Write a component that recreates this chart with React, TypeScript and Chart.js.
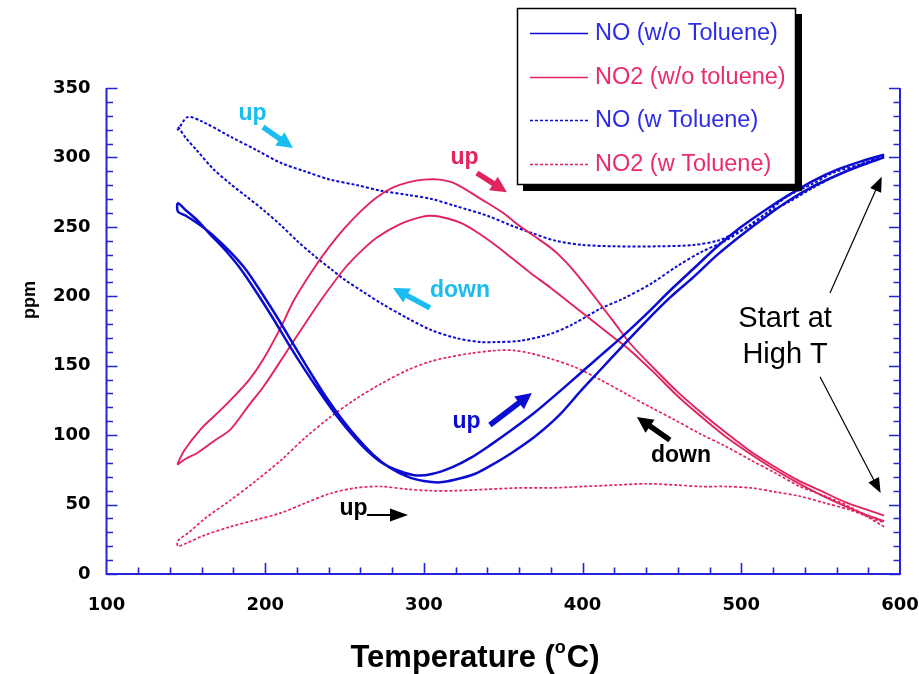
import { useEffect, useRef } from 'react';
import { Chart, registerables } from 'chart.js';

Chart.register(...registerables);

type Pt = [number, number];

// ---------- data (Temperature °C, ppm) ----------
const X_TICKS = [100, 200, 300, 400, 500, 600];
const Y_TICKS = [0, 50, 100, 150, 200, 250, 300, 350];

const NO_WO_TOL_COOL: Pt[] = [
  [590, 300], [575, 294], [560, 287], [545, 279], [530, 269], [515, 257], [500, 244], [485, 230],
  [470, 214], [455, 199], [440, 182], [425, 164], [412, 148], [399, 132], [385, 114], [370, 99],
  [355, 87], [342, 78], [332, 72], [320, 68], [310, 66], [300, 67], [290, 70], [278, 77], [268, 86],
  [258, 98], [248, 112], [238, 128], [228, 146], [218, 165], [208, 184], [198, 202], [188, 219],
  [178, 232], [168, 243], [158, 252], [150, 258], [145, 261],
];
const NO_WO_TOL_HEAT: Pt[] = [
  [145, 267], [150, 262], [157, 255], [165, 245], [175, 233], [185, 219], [195, 202], [205, 184],
  [215, 165], [225, 147], [235, 130], [245, 114], [255, 100], [265, 88], [275, 79], [285, 74],
  [295, 71], [305, 72], [318, 77], [330, 84], [342, 93], [355, 103.5], [370, 116.5], [385, 131],
  [400, 146], [412, 158], [425, 171], [440, 187], [455, 204], [470, 220], [485, 236], [500, 250],
  [515, 262], [530, 273], [545, 283], [560, 291], [575, 297], [590, 302],
];

const NO2_WO_TOL_COOL: Pt[] = [
  [590, 38], [580, 42], [565, 49], [550, 57], [535, 66], [520, 76], [505, 87], [490, 99], [475, 113],
  [460, 128], [445, 145], [430, 161], [420, 170], [410, 179], [400, 188], [390, 197], [380, 206],
  [367, 217], [356, 227], [346, 236], [335, 245], [325, 252], [315, 256], [305, 258], [298, 257],
  [285, 252], [270, 242], [260, 232], [250, 220], [235, 197], [225, 180], [214, 161], [199, 135],
  [190, 122], [178, 104], [168, 96], [157, 87], [150, 83], [145, 79],
];
const NO2_WO_TOL_HEAT: Pt[] = [
  [145, 80], [149, 89], [160, 105], [170, 116], [178, 125], [190, 140], [199, 155], [210, 178],
  [218, 197], [230, 219], [240, 235], [250, 249], [260, 261], [270, 271], [280, 278], [290, 282],
  [300, 284], [310, 284], [320, 281], [336, 270], [350, 260], [361, 250], [370, 243], [382, 233],
  [390, 224], [399, 212], [410, 196], [420, 181], [430, 166], [445, 148], [460, 131], [475, 116],
  [490, 102], [505, 89], [520, 78], [535, 68], [550, 60], [565, 52], [580, 46], [590, 42],
];

const NO_W_TOL_COOL: Pt[] = [
  [590, 301], [575, 295], [560, 287], [545, 278], [530, 268], [515, 259], [505, 251], [490, 240],
  [475, 232], [460, 222], [443, 209], [425, 198], [411, 191], [394, 180], [380, 173], [361, 168],
  [345, 167], [336, 167], [320, 170], [304, 176], [290, 184], [273, 195], [262, 203], [250, 212],
  [241, 220], [230, 230], [220, 240], [210, 251], [199, 262], [188, 272], [178, 281], [167, 292],
  [157, 305], [150, 314], [145, 322],
];
const NO_W_TOL_HEAT: Pt[] = [
  [145, 320], [151, 329], [160, 326], [178, 315], [195, 305], [210, 296], [225, 290], [241, 284],
  [258, 280], [273, 276], [290, 273], [305, 270], [320, 265], [340, 258], [355, 251], [367, 246],
  [383, 240], [400, 237], [420, 236], [449, 236], [470, 237], [485, 240], [497, 246], [506, 251],
  [518, 262], [529, 272], [545, 281], [558, 289], [575, 295], [588, 300],
];

const NO2_W_TOL_COOL: Pt[] = [
  [590, 34], [569, 48], [553, 56], [537, 63], [521, 73], [506, 82], [490, 92], [474, 101], [458, 111],
  [443, 120], [427, 130], [411, 140], [395, 149], [380, 155], [367, 159], [357, 161], [346, 161],
  [330, 159], [315, 156], [304, 153], [290, 147], [273, 137], [257, 126], [241, 113], [225, 98],
  [210, 82], [194, 67], [178, 53], [162, 40], [152, 30], [145, 24],
];
const NO2_W_TOL_HEAT: Pt[] = [
  [145, 20], [150, 22], [162, 28], [178, 34], [194, 39], [210, 44], [225, 51], [241, 58], [257, 62],
  [273, 63], [290, 61], [304, 60], [320, 60], [340, 61], [360, 62], [380, 62], [400, 63], [420, 64],
  [440, 65], [460, 64], [474, 63], [490, 63], [506, 62], [522, 59], [537, 56], [553, 51], [569, 46],
  [580, 41], [590, 37],
];

const SERIES_LABELS = ['NO (w/o Toluene)', 'NO2 (w/o toluene)', 'NO (w Toluene)', 'NO2 (w Toluene)'];

// ---------- annotations (in data coordinates) ----------
const NOTE_TEXTS = [
  { text: 'up', x: 192, y: 327, color: 'cyan', bold: true },
  { text: 'up', x: 325.6, y: 295, color: 'red', bold: true },
  { text: 'down', x: 322.7, y: 199.5, color: 'cyan', bold: true },
  { text: 'up', x: 326.8, y: 104.8, color: 'blue', bold: true },
  { text: 'down', x: 462, y: 80.7, color: 'black', bold: true },
  { text: 'up', x: 255.6, y: 42.8, color: 'black', bold: true },
  { text: 'Start at', x: 527.6, y: 177.9, color: 'black', bold: false },
  { text: 'High T', x: 527.6, y: 152, color: 'black', bold: false },
];
const NOTE_ARROWS = [
  { from: [198.6, 321.9], to: [217.5, 306.8], color: 'cyan', kind: 'thick' },
  { from: [333.4, 288.8], to: [352.3, 275], color: 'red', kind: 'thick' },
  { from: [303.8, 191.6], to: [280.5, 206], color: 'cyan', kind: 'thick' },
  { from: [341.6, 107.3], to: [368, 130.3], color: 'blue', kind: 'thick' },
  { from: [455, 96.5], to: [434.2, 113], color: 'black', kind: 'thick' },
  { from: [264.2, 42.5], to: [290, 42.5], color: 'black', kind: 'line' },
  { from: [555.9, 202.4], to: [588.5, 286.1], color: 'black', kind: 'thin' },
  { from: [549.6, 142.1], to: [587.8, 58.3], color: 'black', kind: 'thin' },
];

const BLUE = '#0b0bd2';
const RED = '#e2245e';
const CYAN = '#1bbcf0';
const AXIS = '#2424d8';
const COLORS: Record<string, string> = { cyan: CYAN, red: RED, blue: BLUE, black: '#000' };

const toXY = (pts: Pt[]) => pts.map(([x, y]) => ({ x, y }));

const drawArrow = (ctx: CanvasRenderingContext2D, x1: number, y1: number, x2: number, y2: number, kind: string, color: string) => {
  const dx = x2 - x1, dy = y2 - y1;
  const len = Math.hypot(dx, dy);
  const ux = dx / len, uy = dy / len;
  const headLen = kind === 'thick' ? 16 : kind === 'line' ? 18 : 15;
  const headHalf = kind === 'thick' ? 8 : kind === 'line' ? 6.5 : 6;
  const shaft = kind === 'thick' ? 5.5 : kind === 'line' ? 2 : 1.2;
  const bx = x2 - ux * headLen, by = y2 - uy * headLen;
  ctx.save();
  ctx.strokeStyle = color;
  ctx.fillStyle = color;
  ctx.lineWidth = shaft;
  ctx.lineCap = 'butt';
  ctx.beginPath();
  ctx.moveTo(x1, y1);
  ctx.lineTo(bx + ux * 2, by + uy * 2);
  ctx.stroke();
  ctx.beginPath();
  ctx.moveTo(x2, y2);
  ctx.lineTo(bx - uy * headHalf, by + ux * headHalf);
  ctx.lineTo(bx + uy * headHalf, by - ux * headHalf);
  ctx.closePath();
  ctx.fill();
  ctx.restore();
};

const decorPlugin = {
  id: 'decor',
  beforeDatasetsDraw(chart: any) {
    const { ctx, chartArea, scales } = chart;
    const { left, right, top, bottom } = chartArea;
    ctx.save();
    ctx.strokeStyle = AXIS;
    ctx.lineWidth = 2;
    ctx.beginPath();
    ctx.moveTo(left, top);
    ctx.lineTo(left, bottom);
    ctx.lineTo(right, bottom);
    ctx.lineTo(right, top);
    ctx.stroke();
    ctx.lineWidth = 1.6;
    ctx.beginPath();
    for (let v = 0; v <= 350; v += 10) {
      const py = Math.round(scales.y.getPixelForValue(v)) + 0.5;
      const l = v % 50 === 0 ? 11 : 6.5;
      ctx.moveTo(left, py);
      ctx.lineTo(left + l, py);
      ctx.moveTo(right, py);
      ctx.lineTo(right - l, py);
    }
    for (let v = 120; v < 600; v += 20) {
      const px = Math.round(scales.x.getPixelForValue(v)) + 0.5;
      const l = v % 100 === 0 ? 11 : 6.5;
      ctx.moveTo(px, bottom);
      ctx.lineTo(px, bottom - l);
    }
    ctx.stroke();
    ctx.restore();
  },
  afterDraw(chart: any) {
    const { ctx, scales } = chart;
    ctx.save();
    // axis titles
    ctx.fillStyle = '#000';
    ctx.textBaseline = 'alphabetic';
    const big = 'bold 31px "Liberation Sans", Arial, sans-serif';
    const sup = 'bold 18px "Liberation Sans", Arial, sans-serif';
    const p1 = 'Temperature (', p2 = 'o', p3 = 'C)';
    ctx.font = big;
    const w1 = ctx.measureText(p1).width, w3 = ctx.measureText(p3).width;
    ctx.font = sup;
    const w2 = ctx.measureText(p2).width + 1;
    let tx = 475 - (w1 + w2 + w3) / 2;
    const ty = 667;
    ctx.font = big;
    ctx.fillText(p1, tx, ty);
    tx += w1;
    ctx.font = sup;
    ctx.fillText(p2, tx, ty - 14);
    tx += w2;
    ctx.font = big;
    ctx.fillText(p3, tx, ty);

    ctx.save();
    ctx.translate(35, 300);
    ctx.rotate(-Math.PI / 2);
    ctx.font = 'bold 18px "Liberation Sans", Arial, sans-serif';
    ctx.textAlign = 'center';
    ctx.fillText('ppm', 0, 0);
    ctx.restore();

    // annotations
    ctx.textAlign = 'center';
    for (const n of NOTE_TEXTS) {
      ctx.font = n.bold ? 'bold 23px "Liberation Sans", Arial, sans-serif' : '29px "Liberation Sans", Arial, sans-serif';
      ctx.fillStyle = COLORS[n.color];
      ctx.fillText(n.text, scales.x.getPixelForValue(n.x), scales.y.getPixelForValue(n.y));
    }
    for (const a of NOTE_ARROWS) {
      drawArrow(
        ctx,
        scales.x.getPixelForValue(a.from[0]), scales.y.getPixelForValue(a.from[1]),
        scales.x.getPixelForValue(a.to[0]), scales.y.getPixelForValue(a.to[1]),
        a.kind, COLORS[a.color]
      );
    }

    // legend
    const bx = 517, by = 8, bw = 279, bh = 177;
    ctx.fillStyle = '#000';
    ctx.fillRect(bx + 6, by + 6, bw, bh);
    ctx.fillStyle = '#fff';
    ctx.fillRect(bx, by, bw, bh);
    ctx.strokeStyle = '#000';
    ctx.lineWidth = 1.5;
    ctx.strokeRect(bx + 0.5, by + 0.5, bw - 1, bh - 1);
    const rows = [33, 77, 120, 164];
    const textColors = ['#2c2ce6', '#ea2c68', '#2c2ce6', '#ea2c68'];
    chart.data.datasets.forEach((ds: any, i: number) => {
      const y = rows[i] + 0.5;
      ctx.save();
      ctx.strokeStyle = ds.borderColor;
      ctx.lineWidth = 1.5;
      ctx.setLineDash(ds.borderDash && ds.borderDash.length ? [3, 2] : []);
      ctx.beginPath();
      ctx.moveTo(530, y);
      ctx.lineTo(588, y);
      ctx.stroke();
      ctx.restore();
      ctx.font = '23.5px "Liberation Sans", Arial, sans-serif';
      ctx.fillStyle = textColors[i];
      ctx.textAlign = 'left';
      ctx.textBaseline = 'middle';
      ctx.fillText(ds.label, 595, rows[i] + 1);
    });
    ctx.restore();
  },
};

export default function App() {
  const ref = useRef<HTMLCanvasElement | null>(null);
  useEffect(() => {
    if (!ref.current) return;
    const tickFont = { family: '"DejaVu Sans", sans-serif', size: 18, weight: 'bold' as const };
    const chart = new Chart(ref.current, {
      type: 'scatter',
      data: {
        datasets: [
          { label: SERIES_LABELS[0], data: toXY([...NO_WO_TOL_COOL, ...NO_WO_TOL_HEAT]), borderColor: BLUE, borderWidth: 2.5, borderDash: [] },
          { label: SERIES_LABELS[1], data: toXY([...NO2_WO_TOL_COOL, ...NO2_WO_TOL_HEAT]), borderColor: RED, borderWidth: 1.9, borderDash: [] },
          { label: SERIES_LABELS[2], data: toXY([...NO_W_TOL_COOL, ...NO_W_TOL_HEAT]), borderColor: BLUE, borderWidth: 2, borderDash: [3, 2] },
          { label: SERIES_LABELS[3], data: toXY([...NO2_W_TOL_COOL, ...NO2_W_TOL_HEAT]), borderColor: RED, borderWidth: 1.7, borderDash: [3, 2] },
        ].map((d) => ({ ...d, showLine: true, pointRadius: 0, tension: 0.3, fill: false })),
      },
      options: {
        responsive: false,
        animation: false,
        layout: { padding: { top: 88, right: 19, left: 0, bottom: 0 } },
        plugins: { legend: { display: false }, tooltip: { enabled: false }, title: { display: false } },
        scales: {
          x: {
            type: 'linear', min: 100, max: 600,
            grid: { display: false, drawTicks: false },
            border: { display: false },
            ticks: { font: tickFont, color: '#000', padding: 21, autoSkip: false, maxRotation: 0 },
            afterBuildTicks: (s: any) => { s.ticks = X_TICKS.map((v) => ({ value: v })); },
            afterFit: (s: any) => { s.height = 100; s.paddingLeft = 0; s.paddingRight = 0; },
          },
          y: {
            type: 'linear', min: 0, max: 350,
            grid: { display: false, drawTicks: false },
            border: { display: false },
            ticks: { font: tickFont, color: '#000', padding: 16, autoSkip: false },
            afterBuildTicks: (s: any) => { s.ticks = Y_TICKS.map((v) => ({ value: v })); },
            afterFit: (s: any) => { s.width = 106.5; s.paddingTop = 0; s.paddingBottom = 0; },
          },
        },
      },
      plugins: [decorPlugin],
    } as any);
    return () => chart.destroy();
  }, []);
  return (
    <div style={{ position: 'fixed', left: 0, top: 0, width: 919, height: 674, background: '#fff' }}>
      <canvas ref={ref} width={919} height={674} style={{ display: 'block' }} />
    </div>
  );
}
